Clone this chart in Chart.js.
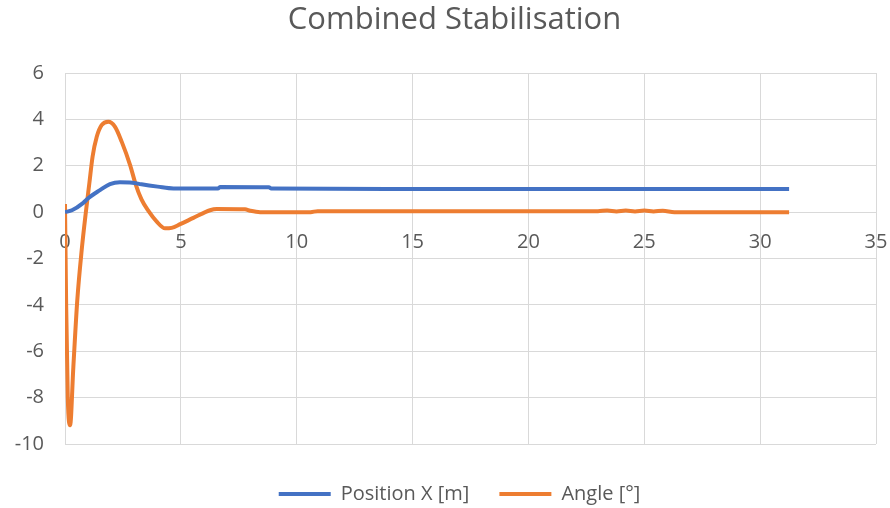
<!DOCTYPE html>
<html>
<head>
<meta charset="utf-8">
<script src="https://cdn.jsdelivr.net/npm/chart.js@4/dist/chart.umd.min.js"></script>
<style>
html,body{margin:0;padding:0;background:#fff;}
#wrap{width:890px;height:508px;position:relative;}
</style>
</head>
<body>
<div id="wrap"><canvas id="c" width="890" height="508"></canvas></div>
<script>
const chartTitle = "Combined Stabilisation";
const seriesNames = ["Position X [m]", "Angle [°]"];
const yTicks = [-10, -8, -6, -4, -2, 0, 2, 4, 6];
const xTicks = [0, 5, 10, 15, 20, 25, 30, 35];

// Position X [m]
const posTime = [0, 0.3, 0.79, 1.0, 1.51, 1.94, 2.37, 2.9, 3.3, 4.0, 4.68, 6.6, 6.7, 8.8, 8.9, 15, 20, 25, 31.25];
const posValue = [0, 0.08, 0.4, 0.6, 0.95, 1.21, 1.29, 1.27, 1.2, 1.1, 1.02, 1.02, 1.08, 1.07, 1.02, 1.0, 1.0, 1.0, 1.0];

// Angle [°]
const angTime = [0, 0.05, 0.12, 0.22, 0.36, 0.53, 0.72, 0.9, 1.05, 1.19, 1.37, 1.58, 1.87, 2.16, 2.45, 2.81, 3.05, 3.3, 3.6, 3.95, 4.32, 4.6, 4.97, 5.54, 6.26, 6.55, 7.77, 7.99, 8.42, 10.6, 10.9, 23.0, 23.4, 23.8, 24.2, 24.6, 25.0, 25.4, 25.8, 26.3, 31.25];
const angValue = [0.35, -4.0, -8.0, -9.19, -6.68, -3.8, -1.64, 0.0, 1.24, 2.39, 3.25, 3.75, 3.9, 3.68, 3.03, 2.03, 1.2, 0.55, 0.05, -0.4, -0.70, -0.68, -0.52, -0.25, 0.08, 0.13, 0.12, 0.06, 0.0, 0.0, 0.04, 0.04, 0.07, 0.03, 0.07, 0.03, 0.07, 0.03, 0.06, 0.0, 0.0];

const toPts = (xs, ys) => xs.map((x, i) => ({x: x, y: ys[i]}));

const FONT = "'Open Sans', 'Liberation Sans', sans-serif";
const GRID = "#d9d9d9";
const TXT = "#595959";

function shiftDraw(box, dx, dy) {
  const d0 = box.draw.bind(box);
  box.draw = function () {
    const ctx = this.ctx;
    ctx.save();
    ctx.translate(dx, dy);
    d0();
    ctx.restore();
  };
}

const boxTweak = {
  id: 'boxTweak',
  afterInit(chart) {
    const lg = chart.legend;
    if (lg) {
      const fit0 = lg.fit.bind(lg);
      lg.fit = function () { fit0(); this.height = 64; };
      shiftDraw(lg, 21.5, 10);
    }
    if (chart.titleBlock) shiftDraw(chart.titleBlock, 16.5, 0);
  }
};

new Chart(document.getElementById('c'), {
  type: 'line',
  data: {
    datasets: [
      {
        label: seriesNames[0],
        data: toPts(posTime, posValue),
        borderColor: '#4472C4',
        backgroundColor: '#4472C4',
        borderWidth: 4,
        pointRadius: 0,
        cubicInterpolationMode: 'monotone'
      },
      {
        label: seriesNames[1],
        data: toPts(angTime, angValue),
        borderColor: '#ED7D31',
        backgroundColor: '#ED7D31',
        borderWidth: 4,
        pointRadius: 0,
        cubicInterpolationMode: 'monotone'
      }
    ]
  },
  plugins: [boxTweak],
  options: {
    responsive: false,
    animation: false,
    layout: {padding: {left: 0, right: 14, top: 0, bottom: 0}},
    plugins: {
      title: {
        display: true,
        text: chartTitle,
        color: TXT,
        font: {family: FONT, size: 31, weight: 'normal', lineHeight: 1.2},
        padding: {top: 1.4, bottom: 34.4}
      },
      legend: {
        position: 'bottom',
        labels: {
          color: TXT,
          font: {family: FONT, size: 20},
          usePointStyle: true,
          pointStyle: 'line',
          pointStyleWidth: 52,
          boxHeight: 4,
          padding: 30
        }
      },
      tooltip: {enabled: false}
    },
    scales: {
      x: {
        type: 'linear',
        position: {y: 0},
        min: 0, max: 35,
        afterBuildTicks: (s) => { s.ticks = xTicks.map(v => ({value: v})); },
        afterFit: (s) => { s.paddingLeft = 0; s.paddingRight = 0; },
        grid: {color: GRID, drawTicks: false},
        border: {color: GRID},
        ticks: {color: TXT, font: {family: FONT, size: 20}, padding: 18, maxRotation: 0}
      },
      y: {
        type: 'linear',
        min: -10, max: 6,
        afterBuildTicks: (s) => { s.ticks = yTicks.map(v => ({value: v})); },
        afterFit: (s) => { s.width = 65; s.paddingTop = 0; s.paddingBottom = 0; },
        grid: {color: GRID, drawTicks: false},
        border: {color: GRID},
        ticks: {color: TXT, font: {family: FONT, size: 20}, padding: 21}
      }
    }
  }
});
</script>
</body>
</html>
